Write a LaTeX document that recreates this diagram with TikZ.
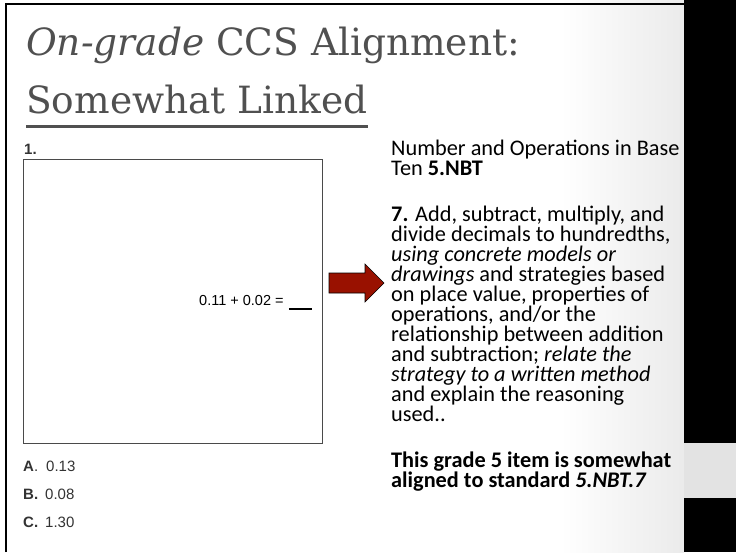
\documentclass[tikz,border=0pt]{standalone}
\usepackage{fontspec}
\setmainfont{Carlito}
\newfontfamily\titlefont{DejaVu Serif}
\newfontfamily\arialfont{Liberation Sans}
\usetikzlibrary{calc}
\definecolor{titlegray}{HTML}{505050}
\definecolor{boxgray}{HTML}{4A4A4A}
\definecolor{arrowred}{RGB}{153,17,0}
\definecolor{optgray}{HTML}{333333}
\tikzset{
  titletext/.style={anchor=base west, inner sep=0pt, text=titlegray, font=\titlefont\fontsize{37.5}{37.5}\selectfont},
  opttext/.style={anchor=base west, inner sep=0pt, text=optgray, font=\arialfont\fontsize{15}{15}\selectfont},
  stdtext/.style={anchor=north west, inner sep=0pt, align=left, text=black, font=\fontsize{22.3}{20}\selectfont},
  qboxstyle/.style={draw=boxgray, line width=1pt, anchor=north west, inner sep=0pt, minimum width=299pt, minimum height=284pt},
  bigarrow/.style={fill=arrowred, draw=black, line width=0.6pt, line join=miter}
}
\begin{document}
\begin{tikzpicture}[x=1pt,y=-1pt]
\useasboundingbox (0,0) rectangle (736,552);
\fill[white] (0,0) rectangle (736,552);
\shade[left color=white, right color=black!8] (560,0) rectangle (684,552);
\fill[black] (684,0) rectangle (736,552);
\fill[black!11] (684,443) rectangle (736,498);
\draw[line width=2.5pt] (6.2,552) -- (6.2,4) -- (684,4);

% title
\node[titletext] (t1) at (26,55) {\textit{On-grade} CCS Alignment:};
\node[titletext] (t2) at (26,113) {Somewhat Linked};
\draw[titlegray, line width=3pt] ($(t2.base west)+(0,13)$) -- ($(t2.base east)+(0,13)$);

% question
\node[opttext, font=\arialfont\bfseries\fontsize{15}{15}\selectfont] (num) at (24,154) {1.};
\node[qboxstyle] (qbox) at (23,159) {};
\node[opttext, text=black, font=\arialfont\fontsize{14.5}{14.5}\selectfont] (eq) at (199,305) {0.11 + 0.02 =};
\draw[line width=1.8pt] ($(eq.base east)+(5,4)$) -- ($(eq.base east)+(28,4)$);

\node[opttext] (oa) at (23,471) {\textbf{A}.\hspace{8pt}0.13};
\node[opttext] (ob) at (23,499) {\textbf{B.}\hspace{7pt}0.08};
\node[opttext] (oc) at (23,527) {\textbf{C.}\hspace{7pt}1.30};

% arrow
\draw[bigarrow] (329,273) -- (365,273) -- (365,264) -- (384,283) -- (365,302) -- (365,293) -- (329,293) -- cycle;

% standard text
\node[stdtext] (head) at (391,140) {Number and Operations in Base\\Ten \textbf{5.NBT}};
\node[stdtext] (std) at (391,206) {\textbf{7.} Add, subtract, multiply, and\\
divide decimals to hundredths,\\
\textit{using concrete models or}\\
\textit{drawings} and strategies based\\
on place value, properties of\\
operations, and/or the\\
relationship between addition\\
and subtraction; \textit{relate the}\\
\textit{strategy to a written method}\\
and explain the reasoning\\
used..};
\node[stdtext] (concl) at (391,452) {\textbf{This grade 5 item is somewhat}\\
\textbf{aligned to standard \textit{5.NBT.7}}};
\end{tikzpicture}
\end{document}
